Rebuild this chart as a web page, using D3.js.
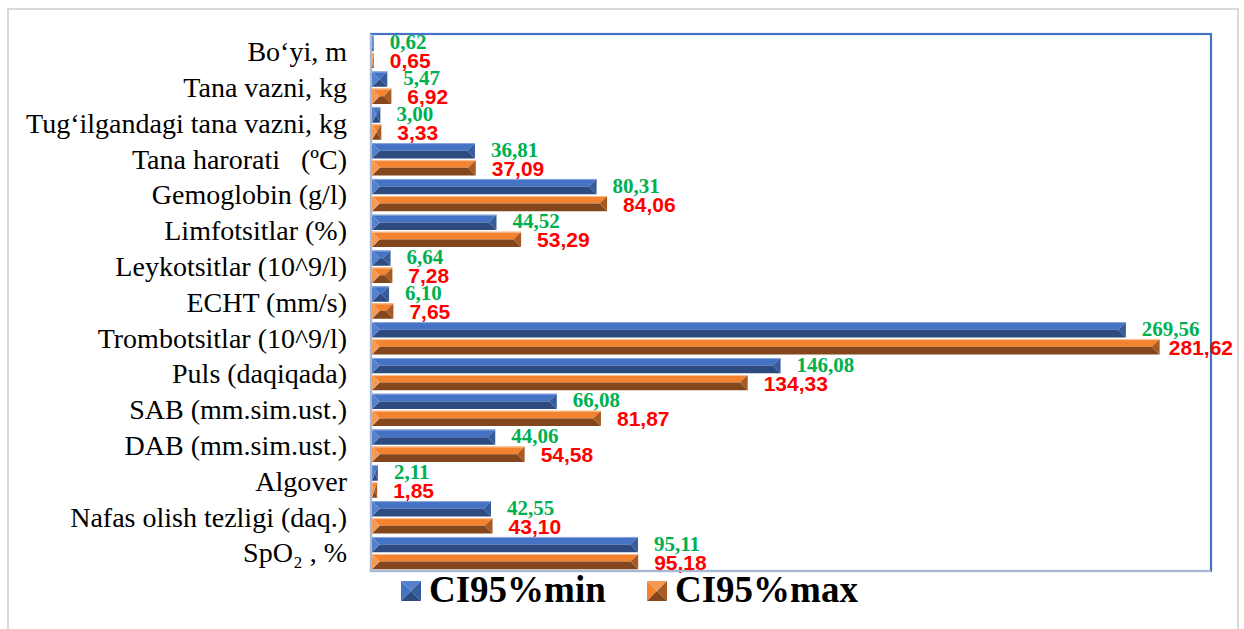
<!DOCTYPE html>
<html>
<head>
<meta charset="utf-8">
<script src="https://cdn.jsdelivr.net/npm/d3@7"></script>
<style>
  html, body { margin: 0; padding: 0; background: #fff; }
  svg { display: block; }
</style>
</head>
<body>
<svg id="chart" width="1244" height="629"></svg>
<script>
// ---- data ----
const categories = [
  "Bo\u2018yi, m",
  "Tana vazni, kg",
  "Tug\u2018ilgandagi tana vazni, kg",
  "Tana harorati   (\u00BAC)",
  "Gemoglobin (g/l)",
  "Limfotsitlar (%)",
  "Leykotsitlar (10^9/l)",
  "ECHT (mm/s)",
  "Trombotsitlar (10^9/l)",
  "Puls (daqiqada)",
  "SAB (mm.sim.ust.)",
  "DAB (mm.sim.ust.)",
  "Algover",
  "Nafas olish tezligi (daq.)",
  "SpO\u2082 , %"
];
const ciMin = [0.62, 5.47, 3.00, 36.81, 80.31, 44.52, 6.64, 6.10, 269.56, 146.08, 66.08, 44.06, 2.11, 42.55, 95.11];
const ciMax = [0.65, 6.92, 3.33, 37.09, 84.06, 53.29, 7.28, 7.65, 281.62, 134.33, 81.87, 54.58, 1.85, 43.10, 95.18];
const seriesNames = ["CI95%min", "CI95%max"];
const xDomain = [0, 300];

// ---- layout ----
const svg = d3.select("#chart");
const plot = { left: 371, top: 34, right: 1211, bottom: 571 };

// outer chart frame
svg.append("rect")
  .attr("x", 8).attr("y", 9).attr("width", 1230).attr("height", 660)
  .attr("fill", "#fff").attr("stroke", "#D9D9D9").attr("stroke-width", 2);

const x = d3.scaleLinear().domain(xDomain).range([plot.left + 1, plot.right]);
const y = d3.scaleBand().domain(categories).range([plot.top, plot.bottom]).paddingInner(0).paddingOuter(0);
const sub = d3.scaleBand().domain(seriesNames).range([0, y.bandwidth()]).paddingInner(0.1).paddingOuter(0.1);

// plot area border (blue)
svg.append("rect")
  .attr("x", plot.left).attr("y", plot.top)
  .attr("width", plot.right - plot.left).attr("height", plot.bottom - plot.top)
  .attr("fill", "none").attr("stroke", "#4472C4").attr("stroke-width", 2.2);

const styles = {
  "CI95%min": { top: "#4472C4", bottom: "#2D4B7E", side: "#375C9C", left: "#5580CC", hi: "#8FAADC" },
  "CI95%max": { top: "#F4832F", bottom: "#84461C", side: "#A85A22", left: "#F59A55", hi: "#F8C39A" }
};

function bevelBar(g, x0, x1, y0, h, st) {
  const y1 = y0 + h, ym = y0 + h / 2;
  const w = Math.max(0, x1 - x0);
  const b = Math.min(h / 2, w / 2);
  const poly = pts => g.append("polygon").attr("points", pts.map(p => p.join(",")).join(" "));
  poly([[x0, y0], [x1, y0], [x1 - b, ym], [x0 + b, ym]]).attr("fill", st.top);
  poly([[x0 + b, ym], [x1 - b, ym], [x1, y1], [x0, y1]]).attr("fill", st.bottom);
  poly([[x1, y0], [x1, y1], [x1 - b, ym]]).attr("fill", st.side);
  poly([[x0, y0], [x0, y1], [x0 + b, ym]]).attr("fill", st.left);
  g.append("line").attr("x1", x0).attr("x2", x1).attr("y1", y0 + 0.5).attr("y2", y0 + 0.5)
    .attr("stroke", st.hi).attr("stroke-width", 1);
}

const barsG = svg.append("g");
const labelsG = svg.append("g");
const seriesData = [ciMin, ciMax];

categories.forEach((c, i) => {
  seriesNames.forEach((s, k) => {
    const v = seriesData[k][i];
    const by = y(c) + sub(s);
    const bh = sub.bandwidth();
    bevelBar(barsG, x(0), x(v), by, bh, styles[s]);
    const label = v.toFixed(2).replace(".", ",");
    const t = labelsG.append("text")
      .attr("y", by + bh / 2 + (k === 0 ? 6 : 8))
      .text(label);
    if (k === 0) {
      t.attr("font-family", "'Liberation Serif', 'Times New Roman', serif")
        .attr("font-weight", "bold").attr("font-size", 21).attr("fill", "#00B050");
    } else {
      t.attr("font-family", "'Liberation Sans', Arial, sans-serif")
        .attr("font-weight", "bold").attr("font-size", 21).attr("fill", "#FF0000");
    }
    const tw = t.node().getComputedTextLength();
    t.attr("x", Math.min(x(v) + 16, 1233 - tw));
  });
});

// axes lines (left and bottom)
svg.append("line").attr("x1", plot.left).attr("x2", plot.left)
  .attr("y1", plot.top).attr("y2", plot.bottom + 1)
  .attr("stroke", "#A9B8D4").attr("stroke-width", 2);
svg.append("line").attr("x1", plot.left).attr("x2", plot.right)
  .attr("y1", plot.bottom).attr("y2", plot.bottom)
  .attr("stroke", "#A9B8D4").attr("stroke-width", 2);

// category axis labels
const yAxis = d3.axisLeft(y).tickSize(0).tickPadding(24);
const ay = svg.append("g").attr("transform", `translate(${plot.left},0)`).call(yAxis);
ay.select(".domain").remove();
ay.selectAll("text")
  .attr("font-family", "'Liberation Serif', 'Times New Roman', serif")
  .attr("font-size", 28).attr("fill", "#000")
  .style("white-space", "pre")
  .attr("dy", "0.33em");

// legend
const legend = svg.append("g");
const legendPos = [{ sx: 401, tx: 429 }, { sx: 647, tx: 675 }];
seriesNames.forEach((s, k) => {
  const st = styles[s];
  const sx = legendPos[k].sx, sy = 581, sz = 20;
  const cx = sx + sz / 2, cy = sy + sz / 2;
  const tri = (pts, fill) => legend.append("polygon")
    .attr("points", pts.map(p => p.join(",")).join(" ")).attr("fill", fill);
  tri([[sx, sy], [sx + sz, sy], [cx, cy]], st.left);
  tri([[sx, sy], [sx, sy + sz], [cx, cy]], st.top);
  tri([[sx + sz, sy], [sx + sz, sy + sz], [cx, cy]], st.side);
  tri([[sx, sy + sz], [sx + sz, sy + sz], [cx, cy]], st.bottom);
  legend.append("text")
    .attr("x", legendPos[k].tx).attr("y", 602)
    .attr("font-family", "'Liberation Serif', 'Times New Roman', serif")
    .attr("font-weight", "bold").attr("font-size", 37).attr("fill", "#000")
    .text(s);
});
</script>
</body>
</html>
